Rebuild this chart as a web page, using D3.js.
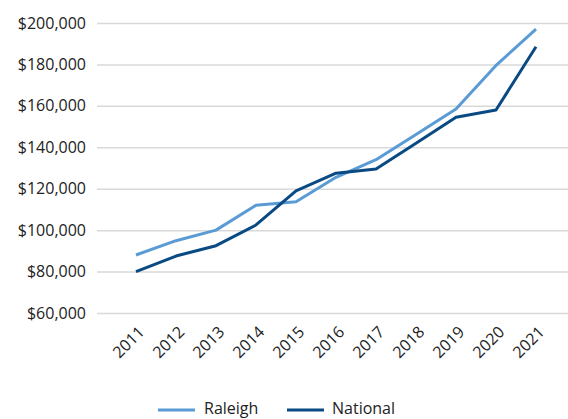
<!DOCTYPE html>
<html><head><meta charset="utf-8">
<script src="https://cdn.jsdelivr.net/npm/d3@7"></script>
<style>body{margin:0;background:#fff}svg{display:block}</style>
</head><body>
<svg id="c" width="568" height="419"></svg>
<script>
const years = ["2011","2012","2013","2014","2015","2016","2017","2018","2019","2020","2021"];
const raleigh = [88000, 94900, 100000, 112000, 113700, 125500, 134000, 146200, 158500, 179500, 197000];
const national = [80000, 87500, 92500, 102500, 119000, 127500, 129500, 142000, 154500, 158000, 188500];
const yTicks = [60000, 80000, 100000, 120000, 140000, 160000, 180000, 200000];
const seriesNames = ["Raleigh", "National"];
const colors = ["#5b9bd5", "#0a4a83"];

const svg = d3.select("#c");
const font = "'Open Sans', 'Noto Sans', sans-serif";
const x = d3.scalePoint().domain(years).range([136, 536]);
const y = d3.scaleLinear().domain([60000, 200000]).range([313, 23]);

const yAxis = d3.axisLeft(y).tickValues(yTicks).tickSize(-(568 - 97)).tickPadding(11)
  .tickFormat(d => "$" + d3.format(",")(d));
const gy = svg.append("g").attr("transform", "translate(97,0)").call(yAxis);
gy.select(".domain").remove();
gy.selectAll(".tick line").attr("stroke", "#d9d9d9").attr("stroke-width", 1.5);
gy.selectAll(".tick text").attr("font-family", font).attr("font-size", 16).attr("fill", "#222");

const xAxis = d3.axisBottom(x).tickSize(0).tickPadding(0);
const gx = svg.append("g").attr("transform", "translate(0,313)").call(xAxis);
gx.select(".domain").remove();
gx.selectAll(".tick text")
  .attr("font-family", font).attr("font-size", 16).attr("fill", "#222")
  .attr("text-anchor", "end").attr("dy", null).attr("y", 0)
  .attr("transform", "translate(9,20) rotate(-45)");

const line = d3.line().x((d, i) => x(years[i])).y(d => y(d));
[raleigh, national].forEach((s, k) => {
  svg.append("path").datum(s).attr("d", line).attr("fill", "none")
    .attr("stroke", colors[k]).attr("stroke-width", 3).attr("stroke-linejoin", "round");
});

const leg = [{x: 158, tx: 204}, {x: 287, tx: 332}];
seriesNames.forEach((n, k) => {
  svg.append("line").attr("x1", leg[k].x).attr("x2", leg[k].x + 37).attr("y1", 410).attr("y2", 410)
    .attr("stroke", colors[k]).attr("stroke-width", 3);
  svg.append("text").attr("x", leg[k].tx).attr("y", 414).text(n)
    .attr("font-family", font).attr("font-size", 16).attr("fill", "#222");
});
</script>
</body></html>
